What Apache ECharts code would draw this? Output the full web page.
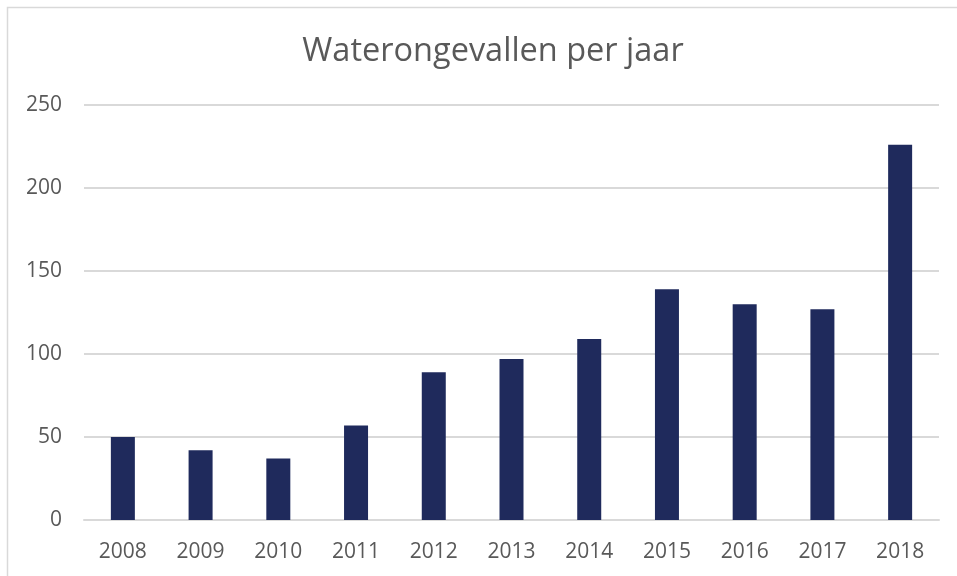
<!DOCTYPE html>
<meta charset="utf-8">
<style>
html, body { margin: 0; padding: 0; background: #fff; }
#main { width: 957px; height: 576px; }
</style>
<div id="main"></div>
<script src="https://cdn.jsdelivr.net/npm/echarts@6/dist/echarts.min.js"></script>
<script>

var years = ['2008', '2009', '2010', '2011', '2012', '2013', '2014', '2015', '2016', '2017', '2018'];
var ongevallen = [50, 42, 37, 57, 89, 97, 109, 139, 130, 127, 226];

var chart = echarts.init(document.getElementById('main'));

chart.setOption({
    animation: false,
    textStyle: { fontFamily: 'Open Sans' },
    title: {
        text: 'Waterongevallen per jaar',
        left: 488,
        top: 30,
        textAlign: 'center',
        textStyle: {
            fontFamily: 'Open Sans',
            fontSize: 32.5,
            fontWeight: 'normal',
            color: '#595959'
        }
    },
    graphic: [{
        type: 'rect',
        silent: true,
        shape: { x: 7.5, y: 7.5, width: 1000, height: 1000 },
        style: { fill: 'none', stroke: '#d9d9d9', lineWidth: 1.5 }
    }],
    grid: {
        left: 84,
        right: 18,
        top: 105,
        bottom: 56
    },
    xAxis: {
        type: 'category',
        data: years,
        axisTick: { show: false },
        axisLine: { lineStyle: { color: '#d9d9d9', width: 2 } },
        axisLabel: {
            color: '#595959',
            fontSize: 21,
            margin: 22
        }
    },
    yAxis: {
        type: 'value',
        min: 0,
        max: 250,
        interval: 50,
        axisLine: { show: false },
        axisTick: { show: false },
        splitLine: { lineStyle: { color: '#d9d9d9', width: 2 } },
        axisLabel: {
            color: '#595959',
            fontSize: 21,
            margin: 22
        }
    },
    series: [{
        type: 'bar',
        data: ongevallen,
        barWidth: 24,
        itemStyle: { color: '#1f2a5c' }
    }]
});

</script>
